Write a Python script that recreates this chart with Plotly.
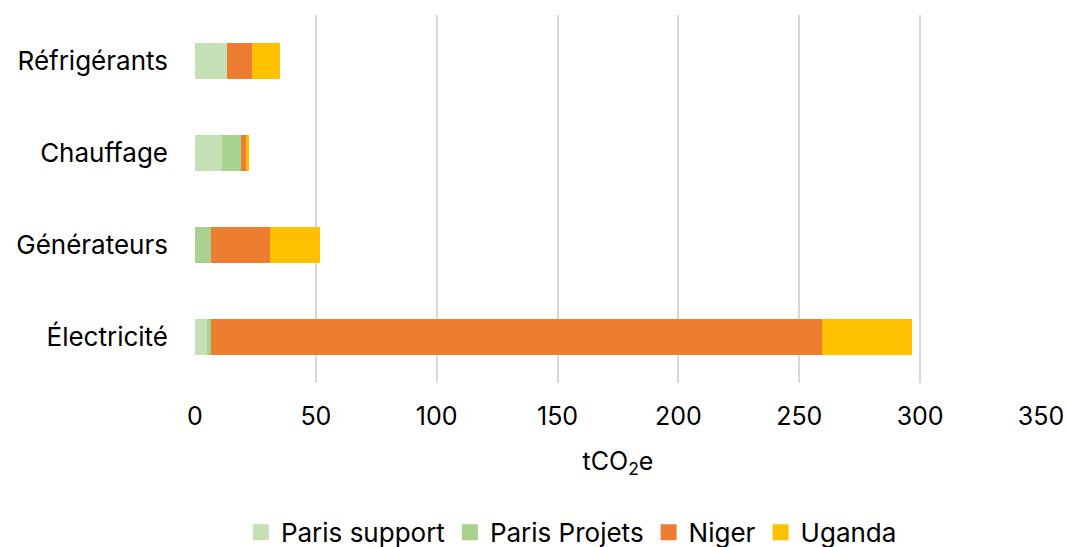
import plotly.graph_objects as go

categories = ["Électricité", "Générateurs", "Chauffage", "Réfrigérants"]
paris_support = [4.8, 0.0, 11.2, 13.4]
paris_projets = [1.8, 6.6, 7.9, 0.0]
niger = [253.0, 24.5, 2.2, 10.2]
uganda = [37.2, 20.8, 1.2, 11.6]

x_ticks = [0, 50, 100, 150, 200, 250, 300, 350]

series = [
    ("Paris support", paris_support, "#C5E0B4"),
    ("Paris Projets", paris_projets, "#A9D18E"),
    ("Niger", niger, "#ED7D31"),
    ("Uganda", uganda, "#FFC000"),
]

font_family = "Inter, Lato, sans-serif"

fig = go.Figure()
for name, vals, color in series:
    fig.add_trace(go.Bar(
        y=categories, x=vals, name=name, orientation="h",
        marker=dict(color=color, line=dict(width=0)),
        showlegend=False,
    ))
    # legend entry with a larger square swatch
    fig.add_trace(go.Scatter(
        x=[None], y=[None], mode="markers", name=name,
        marker=dict(symbol="square", size=18, color=color),
    ))

fig.update_layout(
    barmode="stack",
    bargap=0.6,
    width=1066, height=547,
    margin=dict(l=195, r=25, t=15, b=164, autoexpand=False),
    paper_bgcolor="white", plot_bgcolor="white",
    font=dict(family=font_family, size=25, color="#000000"),
    legend=dict(
        orientation="h", x=0.226, xanchor="left", xref="container",
        y=0.027, yanchor="middle", yref="container",
        font=dict(size=26), itemwidth=30, traceorder="normal",
    ),
    xaxis=dict(
        range=[0, 350], tickvals=x_ticks, showgrid=True,
        gridcolor="#D9D9D9", gridwidth=2, zeroline=False,
        showline=False, ticks="", tickfont=dict(size=25),
        ticklabelstandoff=16,
        title=dict(text="tCO<sub>2</sub>e", font=dict(size=25), standoff=22),
    ),
    yaxis=dict(
        categoryorder="array", categoryarray=categories,
        showgrid=False, zeroline=False, showline=False, ticks="",
        tickfont=dict(size=26), ticklabelstandoff=26,
    ),
)

fig.write_html("out.html")
